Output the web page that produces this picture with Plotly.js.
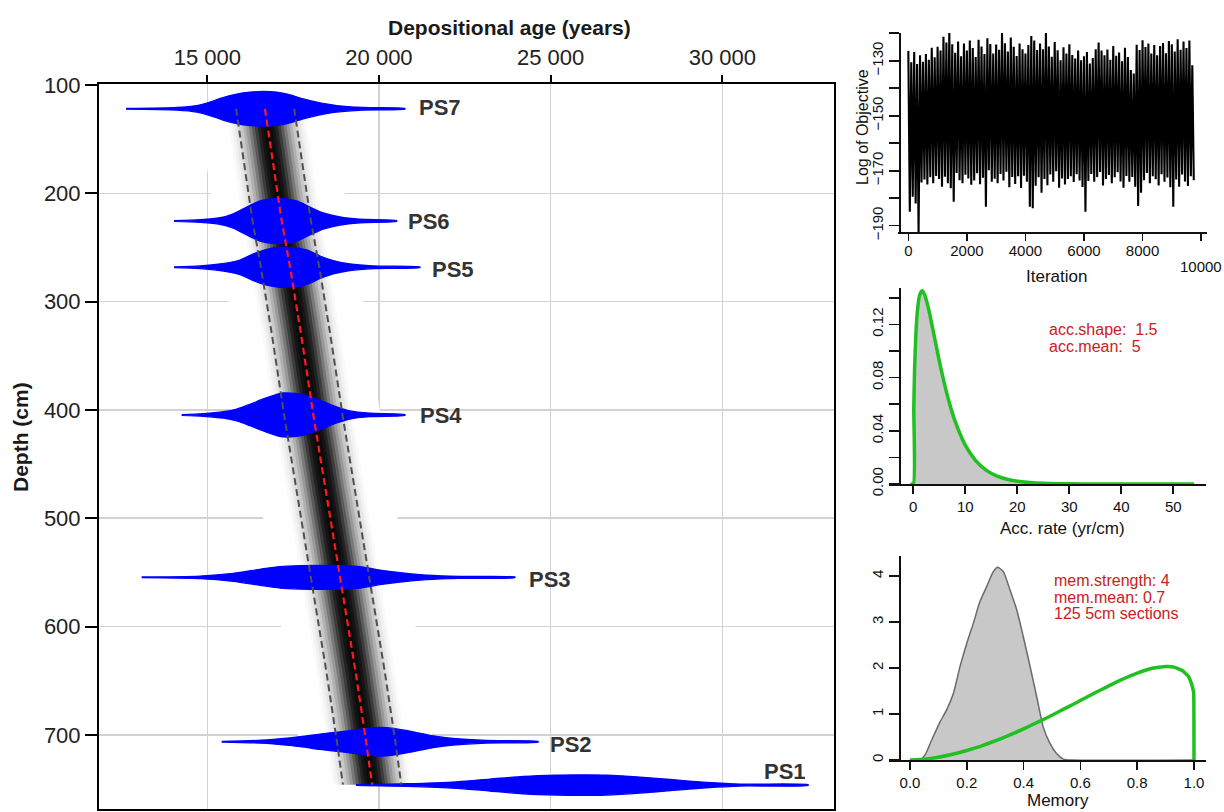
<!DOCTYPE html>
<html><head><meta charset="utf-8">
<script src="https://cdn.plot.ly/plotly-3.0.1.min.js"></script>
<style>html,body{margin:0;padding:0;background:#fff;} #chart{width:1224px;height:812px;}</style>
</head><body><div id="chart"></div>
<script>
// ================= DATA =================
// main panel axes
const ageTickVals = [15000, 20000, 25000, 30000];
const ageTickText = ['15 000', '20 000', '25 000', '30 000'];
const depthTickVals = [100, 200, 300, 400, 500, 600, 700];

// age-depth model (mean, 95% bounds)
const modelDepth = [122, 175, 226, 268, 330, 405, 480, 566, 640, 705, 746];
const modelMean  = [16680, 16940, 17170, 17410, 17730, 18090, 18480, 18940, 19310, 19620, 19800];
const modelLo    = [15840, 16090, 16320, 16560, 16880, 17240, 17630, 18090, 18460, 18770, 18950];
const modelHi    = [17530, 17790, 18020, 18260, 18580, 18940, 19330, 19790, 20160, 20470, 20650];

// dated samples: depth, age profile and half-height (cm) of each density
const sampleNames  = ['PS1', 'PS2', 'PS3', 'PS4', 'PS5', 'PS6', 'PS7'];
const sampleDepths = [746.4, 706.4, 554.6, 404.7, 268.3, 225.6, 122.0];
const labelAges    = [32492, 24921, 24309, 21135, 21485, 20786, 21106];
const labelDepths  = [734.3, 709.4, 557.0, 405.6, 270.8, 225.6, 121.2];

const ps1Age  = [19330, 20806, 22262, 23232, 24202, 25174, 25949, 26630, 27600, 28570, 29542, 30512, 32501];
const ps1Half = [0.3, 1.2, 3.0, 5.5, 8.0, 9.2, 9.5, 9.2, 7.4, 4.9, 2.5, 0.9, 0.3];
const ps2Age  = [15419, 16729, 17699, 18282, 18864, 19446, 20029, 20416, 20999, 21581, 22163, 23136, 24638];
const ps2Half = [0.3, 1.6, 4.6, 7.1, 9.2, 11.4, 13.2, 12.3, 9.2, 5.5, 3.0, 1.2, 0.3];
const ps3Age  = [13089, 14787, 15757, 16534, 17117, 17699, 18282, 18864, 19446, 20029, 20611, 21388, 22360, 23960];
const ps3Half = [0.3, 1.2, 3.7, 7.4, 9.9, 10.8, 11.1, 10.8, 9.9, 6.7, 4.3, 2.1, 0.9, 0.3];
const ps4Age  = [14254, 14883, 15466, 15856, 16243, 16630, 17021, 17213, 17603, 17990, 18378, 18768, 19155, 19737, 20757];
const ps4Half = [0.3, 1.2, 3.0, 5.5, 9.9, 14.8, 19.1, 20.3, 19.7, 16.9, 12.3, 7.4, 3.7, 1.6, 0.3];
const ps5Age  = [14030, 14787, 15370, 15952, 16339, 16729, 17117, 17504, 17894, 18282, 18669, 19155, 19834, 21194];
const ps5Half = [0.3, 1.2, 3.0, 6.7, 12.3, 16.6, 18.5, 18.2, 16.0, 10.4, 6.2, 3.0, 1.2, 0.3];
const ps6Age  = [14030, 14787, 15370, 15757, 16147, 16534, 16922, 17213, 17603, 17990, 18378, 18864, 19446, 20515];
const ps6Half = [0.3, 1.2, 3.0, 6.7, 12.9, 18.5, 20.6, 20.6, 18.5, 12.9, 7.4, 3.7, 1.6, 0.3];
const ps7Age  = [12632, 14109, 14691, 15078, 15457, 15856, 16243, 16630, 17021, 17408, 17795, 18185, 18768, 19543, 20757];
const ps7Half = [0.3, 1.2, 3.0, 6.2, 10.4, 13.6, 15.4, 16.0, 15.4, 12.9, 9.2, 6.2, 3.0, 1.2, 0.3];

// MCMC trace: local maxima / minima every 100 iterations
const iterStep = 100;
const traceHigh = [-126.4,-130.5,-126.8,-131.2,-128.0,-130.4,-127.5,-129.6,-125.3,-128.7,
  -124.9,-126.3,-121.3,-123.4,-118.8,-124.0,-127.1,-123.0,-128.4,-123.7,
  -126.3,-122.6,-125.4,-128.6,-122.4,-124.8,-127.5,-121.8,-123.9,-127.4,
  -124.1,-126.0,-119.8,-123.6,-126.6,-121.5,-124.9,-128.3,-123.7,-125.8,
  -127.4,-124.3,-121.0,-122.6,-126.1,-123.7,-125.8,-118.9,-124.8,-128.5,
  -123.2,-126.2,-129.8,-125.1,-127.4,-124.0,-127.9,-129.2,-126.3,-129.8,
  -128.4,-126.8,-131.0,-129.0,-125.8,-123.4,-126.3,-128.0,-125.9,-129.6,
  -124.6,-128.2,-127.0,-130.2,-125.3,-128.6,-133.4,-134.6,-124.2,-126.1,
  -122.5,-125.0,-123.7,-127.4,-124.3,-128.0,-124.6,-123.5,-127.3,-122.8,
  -124.0,-126.6,-122.2,-126.0,-123.0,-125.4,-122.6,-131.6];
const traceLow = [-184.9,-179.5,-181.9,-192.8,-174.3,-173.2,-175.0,-172.4,-174.6,-171.9,
  -173.0,-175.8,-172.2,-174.6,-176.4,-181.3,-170.8,-173.5,-174.6,-171.5,
  -172.8,-175.1,-173.6,-170.9,-174.9,-172.6,-183.1,-169.8,-174.0,-172.9,
  -174.6,-171.2,-173.6,-170.4,-176.0,-172.3,-174.8,-172.0,-176.3,-171.8,
  -174.0,-183.1,-183.7,-175.5,-172.4,-178.0,-173.0,-175.3,-171.4,-174.0,
  -170.2,-176.2,-172.8,-175.0,-173.0,-172.0,-174.1,-171.3,-173.6,-175.9,
  -184.9,-173.7,-171.2,-174.0,-172.3,-170.5,-175.4,-173.0,-171.6,-174.6,
  -172.4,-170.6,-173.9,-176.2,-171.9,-174.0,-172.3,-175.8,-182.8,-178.0,
  -173.5,-170.8,-174.6,-172.0,-173.1,-175.4,-171.3,-174.0,-172.5,-176.0,
  -183.1,-173.2,-175.8,-171.4,-173.9,-175.6,-172.0,-173.5];

// accumulation rate prior (green) / posterior (grey)
const accRate = [-0.6, 0, 0.1, 0.25, 0.5, 0.8, 1.2, 1.7, 2.2, 3, 4, 5, 6, 7, 8, 10, 12, 14, 16, 18, 20, 23, 26, 30, 35, 40, 45, 50, 54];
const accDens = [0, 0, 0.057, 0.086, 0.1128, 0.1304, 0.1417, 0.1452, 0.1421, 0.1306, 0.1117, 0.0925, 0.0751, 0.0601, 0.0476, 0.0292, 0.0176, 0.0104, 0.0061, 0.0036, 0.0021, 0.0009, 0.0004, 0.0001, 0, 0, 0, 0, 0];

// memory posterior (grey) and prior (green)
const memPostX = [0.0, 0.035, 0.053, 0.076, 0.106, 0.129, 0.153, 0.176, 0.2, 0.223, 0.246, 0.27, 0.293, 0.309, 0.329, 0.352, 0.376, 0.399, 0.423, 0.446, 0.469, 0.493, 0.516, 0.54, 0.575, 1.0];
const memPostY = [0, 0, 0.11, 0.43, 0.83, 1.09, 1.45, 2.03, 2.54, 2.97, 3.44, 3.77, 4.09, 4.19, 4.09, 3.70, 3.26, 2.68, 2.03, 1.38, 0.72, 0.36, 0.14, 0.02, 0, 0];
const memPriorX = [0, 0.05, 0.1, 0.15, 0.2, 0.25, 0.3, 0.35, 0.4, 0.45, 0.5, 0.55, 0.6, 0.65, 0.7, 0.75, 0.8, 0.85, 0.9, 0.93, 0.96, 0.98, 0.99, 0.996, 0.999, 1.0];
const memPriorY = [0, 0.018, 0.061, 0.124, 0.206, 0.303, 0.415, 0.540, 0.677, 0.822, 0.974, 1.133, 1.294, 1.455, 1.612, 1.760, 1.890, 1.991, 2.034, 2.02, 1.94, 1.82, 1.68, 1.55, 1.45, 0];

// ================= STYLE / BUILD =================
const FONT = 'Liberation Sans, Arial, Helvetica, sans-serif';
const W = 1224, H = 812;
const px = v => v / W;           // paper x from pixel
const py = v => 1 - v / H;       // paper y from pixel

const traces = [];

// band polygon built from the model arrays
function band(frac) {
  const left = modelMean.map((m, i) => m - frac * (m - modelLo[i]));
  const right = modelMean.map((m, i) => m + frac * (modelHi[i] - m));
  return {
    x: left.concat(right.slice().reverse()),
    y: modelDepth.concat(modelDepth.slice().reverse())
  };
}
// white background of the model image (hides grid)
const wb = band(2.3);
traces.push({type: 'scatter', mode: 'lines', x: wb.x, y: wb.y, fill: 'toself',
  fillcolor: '#ffffff', line: {width: 0, color: 'rgba(0,0,0,0)'}, xaxis: 'x', yaxis: 'y', hoverinfo: 'skip'});
// grey-scale probability band (style layers)
const bandFrac  = [1.35, 1.25, 1.15, 1.05, 0.95, 0.85, 0.75, 0.65, 0.55, 0.45, 0.35, 0.25, 0.15, 0.05];
const bandAlpha = [0.02, 0.031, 0.042, 0.055, 0.081, 0.114, 0.143, 0.2, 0.25, 0.333, 0.417, 0.429, 0.375, 0.4];
bandFrac.forEach((f, k) => {
  const b = band(f);
  traces.push({type: 'scatter', mode: 'lines', x: b.x, y: b.y, fill: 'toself',
    fillcolor: 'rgba(0,0,0,' + bandAlpha[k] + ')', line: {width: 0, color: 'rgba(0,0,0,0)'},
    xaxis: 'x', yaxis: 'y', hoverinfo: 'skip'});
});

// sample densities
const sampleAges = [ps1Age, ps2Age, ps3Age, ps4Age, ps5Age, ps6Age, ps7Age];
const sampleHalf = [ps1Half, ps2Half, ps3Half, ps4Half, ps5Half, ps6Half, ps7Half];
sampleNames.forEach((n, s) => {
  const a = sampleAges[s], h = sampleHalf[s], d = sampleDepths[s];
  const top = h.map(v => d - v), bot = h.map(v => d + v);
  traces.push({type: 'scatter', mode: 'lines', name: n,
    x: a.concat(a.slice().reverse()), y: top.concat(bot.slice().reverse()),
    fill: 'toself', fillcolor: '#0000ff', line: {color: '#0000ff', width: 1.3, shape: 'spline', smoothing: 0.8},
    xaxis: 'x', yaxis: 'y', hoverinfo: 'skip'});
});

// dashed bounds and mean
[modelLo, modelHi].forEach(arr => {
  traces.push({type: 'scatter', mode: 'lines', x: arr, y: modelDepth,
    line: {color: '#505050', width: 2, dash: '7px,4px'}, xaxis: 'x', yaxis: 'y', hoverinfo: 'skip'});
});
traces.push({type: 'scatter', mode: 'lines', x: modelMean, y: modelDepth,
  line: {color: '#ff1a1a', width: 2.2, dash: '7px,4px'}, xaxis: 'x', yaxis: 'y', hoverinfo: 'skip'});

// MCMC trace
const tx = [], ty = [];
traceHigh.forEach((v, k) => {
  tx.push(k * iterStep); ty.push(v);
  tx.push(k * iterStep + iterStep / 2); ty.push(traceLow[k]);
});
traces.push({type: 'scatter', mode: 'lines', x: tx, y: ty, line: {color: '#000', width: 2.1},
  xaxis: 'x2', yaxis: 'y2', hoverinfo: 'skip'});

// acc rate
traces.push({type: 'scatter', mode: 'lines', x: accRate, y: accDens, fill: 'tozeroy',
  fillcolor: '#c8c8c8', line: {color: '#20c020', width: 3.5, shape: 'spline', smoothing: 0.6},
  xaxis: 'x3', yaxis: 'y3', hoverinfo: 'skip'});

// memory
traces.push({type: 'scatter', mode: 'lines', x: memPostX, y: memPostY, fill: 'tozeroy',
  fillcolor: '#c8c8c8', line: {color: '#6a6a6a', width: 1.5, shape: 'spline', smoothing: 0.6},
  xaxis: 'x4', yaxis: 'y4', hoverinfo: 'skip'});
traces.push({type: 'scatter', mode: 'lines', x: memPriorX, y: memPriorY,
  line: {color: '#20c020', width: 3.5, shape: 'spline', smoothing: 0.3}, xaxis: 'x4', yaxis: 'y4', hoverinfo: 'skip'});

// ================= LAYOUT =================
const tickFontMain = {family: FONT, size: 22, color: '#222'};
const tickFontSmall = {family: FONT, size: 15, color: '#111'};
const smallAxisCommon = {showgrid: false, zeroline: false, showline: true, linecolor: '#111', linewidth: 1.6,
  ticks: 'outside', ticklen: 8, tickwidth: 1.6, tickcolor: '#111', tickfont: tickFontSmall, automargin: false, fixedrange: true};

const annotations = [];
sampleNames.forEach((n, s) => {
  annotations.push({text: '<b>' + n + '</b>', x: labelAges[s], y: labelDepths[s], xref: 'x', yref: 'y',
    xanchor: n === 'PS1' ? 'right' : 'left', yanchor: 'middle', showarrow: false,
    font: {family: FONT, size: 22, color: '#333'}});
});
function txt(t, x, y, size, opts) {
  annotations.push(Object.assign({text: t, x: px(x), y: py(y), xref: 'paper', yref: 'paper',
    showarrow: false, xanchor: 'center', yanchor: 'middle', font: {family: FONT, size: size, color: '#111'}}, opts || {}));
}
txt('<b>Depositional age (years)</b>', 509, 27, 21, {font: {family: FONT, size: 21, color: '#1a1a1a'}});
txt('<b>Depth (cm)</b>', 20, 437, 21, {textangle: -90, font: {family: FONT, size: 21, color: '#1a1a1a'}});
txt('Log of Objective', 862, 127, 16, {textangle: -90});
txt('Iteration', 1056, 277, 17);
txt('10000', 1201, 266, 15);
txt('Acc. rate (yr/cm)', 1062, 528, 17);
txt('Memory', 1058, 800, 17);
const red = '#cc2020';
txt('acc.shape:\u00a0\u00a01.5', 1047, 329, 16, {xanchor: 'left', font: {family: FONT, size: 16, color: red}});
txt('acc.mean:\u00a0\u00a05', 1047, 346, 16, {xanchor: 'left', font: {family: FONT, size: 16, color: red}});
txt('mem.strength: 4', 1052, 580, 16, {xanchor: 'left', font: {family: FONT, size: 16, color: red}});
txt('mem.mean: 0.7', 1052, 597, 16, {xanchor: 'left', font: {family: FONT, size: 16, color: red}});
txt('125 5cm sections', 1052, 613, 16, {xanchor: 'left', font: {family: FONT, size: 16, color: red}});

const layout = {
  width: W, height: H, margin: {l: 0, r: 0, t: 0, b: 0, pad: 0},
  paper_bgcolor: '#fff', plot_bgcolor: 'rgba(0,0,0,0)', showlegend: false,
  font: {family: FONT},
  xaxis: {domain: [px(99), px(834)], range: [11846, 33253], side: 'top', anchor: 'y',
    tickvals: ageTickVals, ticktext: ageTickText, ticks: 'outside', ticklen: 7, tickwidth: 2, tickcolor: '#000',
    showline: true, linecolor: '#000', linewidth: 2, mirror: true,
    showgrid: true, gridcolor: '#d2d2d2', gridwidth: 1.5, zeroline: false, tickfont: tickFontMain,
    ticklabelstandoff: 1, automargin: false, fixedrange: true},
  yaxis: {domain: [py(809), py(84)], range: [768.5, 99.1], anchor: 'x',
    tickvals: depthTickVals, ticks: 'outside', ticklen: 12, tickwidth: 2, tickcolor: '#000',
    showline: true, linecolor: '#000', linewidth: 2, mirror: true,
    showgrid: true, gridcolor: '#d2d2d2', gridwidth: 1.5, zeroline: false, tickfont: tickFontMain,
    automargin: false, fixedrange: true},

  xaxis2: Object.assign({}, smallAxisCommon, {domain: [px(898), px(1207)], range: [-353, 10202], anchor: 'y2',
    tickvals: [0, 2000, 4000, 6000, 8000, 10000], ticktext: ['0', '2000', '4000', '6000', '8000', ''], ticklen: 7,
    ticklabelstandoff: -3}),
  yaxis2: Object.assign({}, smallAxisCommon, {domain: [py(232), py(33)], range: [-192.3, -119.9], anchor: 'free', position: px(899.3),
    tickvals: [-190, -180, -170, -160, -150, -140, -130, -120],
    ticktext: ['\u2212190', '', '\u2212170', '', '\u2212150', '', '\u2212130', ''],
    tickangle: -90, ticklen: 10}),

  xaxis3: Object.assign({}, smallAxisCommon, {domain: [px(889), px(1206)], range: [-4.67, 56.29], anchor: 'y3',
    tickvals: [0, 10, 20, 30, 40, 50], ticklen: 8}),
  yaxis3: Object.assign({}, smallAxisCommon, {domain: [py(484), py(288)], range: [0, 0.1473], anchor: 'free', position: px(899.3),
    tickvals: [0, 0.02, 0.04, 0.06, 0.08, 0.10, 0.12, 0.14], ticktext: ['0.00', '', '0.04', '', '0.08', '', '0.12', ''],
    tickangle: -90, ticklen: 10}),

  xaxis4: Object.assign({}, smallAxisCommon, {domain: [px(889), px(1206)], range: [-0.0739, 1.0423], anchor: 'y4',
    tickvals: [0, 0.2, 0.4, 0.6, 0.8, 1.0], ticktext: ['0.0', '0.2', '0.4', '0.6', '0.8', '1.0'], ticklen: 8}),
  yaxis4: Object.assign({}, smallAxisCommon, {domain: [py(760), py(556)], range: [0, 4.435], anchor: 'free', position: px(899.3),
    tickvals: [0, 1, 2, 3, 4], tickangle: -90, ticklen: 10}),
  annotations: annotations
};

Plotly.newPlot('chart', traces, layout, {staticPlot: true, displayModeBar: false});
</script>
</body></html>
